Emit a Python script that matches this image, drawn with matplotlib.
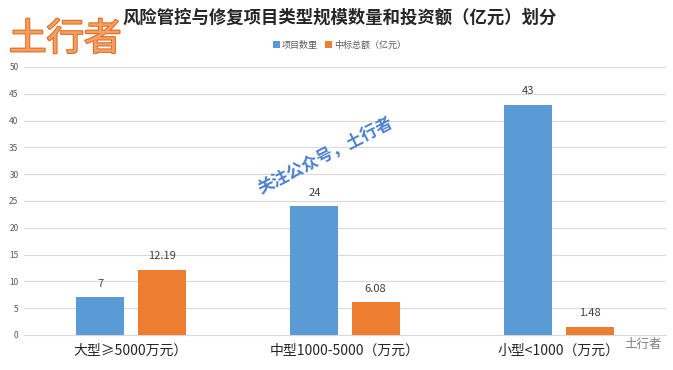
import matplotlib
matplotlib.use("Agg")
import matplotlib.pyplot as plt
import matplotlib.patheffects as pe
import numpy as np

plt.rcParams['font.family'] = ['Noto Sans CJK SC', 'DejaVu Sans']

categories = ['大型≥5000万元）', '中型1000-5000（万元）', '小型<1000（万元）']
count_values = [7, 24, 43]
amount_values = [12.19, 6.08, 1.48]
count_labels = ['7', '24', '43']
amount_labels = ['12.19', '6.08', '1.48']
series_names = ['项目数里', '中标总额（亿元）']
yticks = list(range(0, 55, 5))

blue = '#5b9bd5'
orange = '#ed7d31'

fig = plt.figure(figsize=(6.73, 3.70), dpi=100)
ax = fig.add_axes([24/673, 1-335/370, 642/673, 268/370])

x = np.arange(len(categories))
w = 0.224
off = 0.143
b1 = ax.bar(x - off, count_values, w, color=blue, label=series_names[0], zorder=3)
b2 = ax.bar(x + off, amount_values, w, color=orange, label=series_names[1], zorder=3)

for rect, lab in zip(b1, count_labels):
    ax.text(rect.get_x() + rect.get_width()/2, rect.get_height() + 1.6, lab,
            ha='center', va='bottom', fontsize=8, color='#404040')
for rect, lab in zip(b2, amount_labels):
    ax.text(rect.get_x() + rect.get_width()/2, rect.get_height() + 1.6, lab,
            ha='center', va='bottom', fontsize=8, color='#404040')

ax.set_xlim(-0.5, 2.5)
ax.set_ylim(0, 50)
ax.set_yticks(yticks)
ax.set_yticklabels([str(t) for t in yticks], fontsize=6, color='#595959')
ax.set_xticks(x)
ax.set_xticklabels(categories, fontsize=10, color='#262626')
ax.tick_params(axis='both', length=0)
ax.tick_params(axis='y', pad=4)
ax.tick_params(axis='x', pad=6)
ax.grid(axis='y', color='#d9d9d9', linewidth=0.8, zorder=0)
for s in ['top', 'right', 'left']:
    ax.spines[s].set_visible(False)
ax.spines['bottom'].set_color('#d9d9d9')

fig.text(0.505, 0.953, '风险管控与修复项目类型规模数量和投资额（亿元）划分',
         ha='center', va='center', fontsize=12.5, fontweight='bold', color='#262626')

leg = fig.legend(handles=[b1, b2], labels=series_names, loc='center',
                 bbox_to_anchor=(0.505, 0.878), ncol=2, frameon=False,
                 fontsize=6.5, handlelength=0.7, handleheight=0.7,
                 handletextpad=0.3, columnspacing=0.8)
for t in leg.get_texts():
    t.set_color('#595959')

fig.text(0.097, 0.893, '土行者', ha='center', va='center', fontsize=27,
         color='#f4a064',
         path_effects=[pe.withStroke(linewidth=1.5, foreground='#e06a20')])

fig.text(0.484, 0.576, '关注公众号，土行者', ha='center', va='center',
         fontsize=12, color='#4a7fd0', fontweight='bold', rotation=27)

fig.text(0.955, 0.07, '土行者', ha='center', va='center', fontsize=9,
         color='#7f7f7f')

fig.savefig('out.png', dpi=100)
